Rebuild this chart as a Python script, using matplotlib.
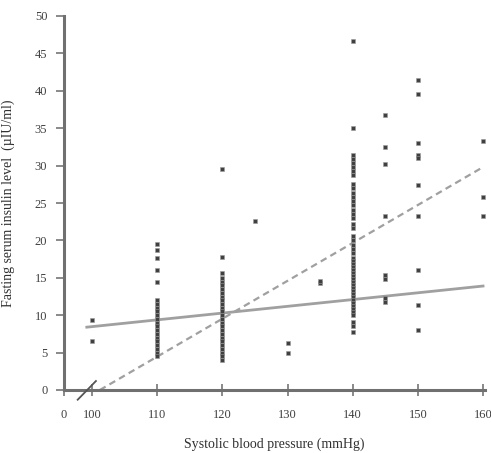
import numpy as np
import matplotlib
matplotlib.use("Agg")
import matplotlib.pyplot as plt

plt.rcParams['font.family'] = ['Liberation Serif', 'DejaVu Serif']

# systolic blood pressure groups and the insulin values read in each group
sbp_100 = [9.3, 6.6]
sbp_110 = [19.5, 18.7, 17.6, 16.0, 14.5, 12.0, 11.5, 11.0, 10.5, 10.0, 9.5, 9.0,
           8.5, 8.0, 7.5, 7.0, 6.5, 6.0, 5.5, 5.0, 4.5]
sbp_120 = [29.5, 17.8, 15.6, 15.0, 14.5, 14.0, 13.5, 13.0, 12.5, 12.0, 11.5, 11.0,
           10.5, 10.0, 9.5, 9.0, 8.5, 8.0, 7.5, 7.0, 6.5, 6.0, 5.5, 5.0, 4.5, 4.0]
sbp_125 = [22.6]
sbp_130 = [6.3, 4.9]
sbp_135 = [14.3, 14.6]
sbp_140 = [46.6, 35.0, 31.4, 30.9, 30.4, 29.8, 29.3, 28.7, 27.5, 27.0, 26.4, 25.8,
           25.3, 24.7, 24.0, 23.5, 23.0, 22.2, 21.6, 20.6, 20.0, 19.4, 18.8, 18.3,
           17.6, 17.2, 16.8, 16.4, 16.0, 15.6, 15.2, 14.8, 14.4, 14.0, 13.6, 13.2,
           12.8, 12.4, 12.0, 11.6, 11.2, 10.8, 10.4, 10.0, 9.1, 8.6, 7.7]
sbp_145 = [36.8, 32.5, 30.2, 23.2, 15.4, 14.8, 12.3, 11.8]
sbp_150 = [41.5, 39.6, 33.0, 31.4, 31.0, 27.4, 23.3, 16.0, 11.3, 8.0]
sbp_160 = [33.3, 25.8, 23.2]

groups = {100: sbp_100, 110: sbp_110, 120: sbp_120, 125: sbp_125, 130: sbp_130,
          135: sbp_135, 140: sbp_140, 145: sbp_145, 150: sbp_150, 160: sbp_160}

# two fitted lines (end points)
dash_x = [101.2, 160]
dash_y = [0, 29.8]
solid_x = [99.2, 160]
solid_y = [8.4, 13.9]

x_ticks = [95.7, 100, 110, 120, 130, 140, 150, 160]
x_labels = ['0', '100', '110', '120', '130', '140', '150', '160']
y_ticks = [0, 5, 10, 15, 20, 25, 30, 35, 40, 45, 50]

fig = plt.figure(figsize=(4.91, 4.53), dpi=100)
ax = fig.add_axes([64/491, 63/453, 421/491, 374/453])

xs, ys = [], []
for k, v in groups.items():
    xs += [k] * len(v)
    ys += v
ax.scatter(xs, ys, marker='s', s=7, color='#404040', edgecolors='#9a9a9a',
           linewidths=0.4, zorder=3)

ax.plot(solid_x, solid_y, color='#a0a0a0', lw=2.0, zorder=2)
ax.plot(dash_x, dash_y, color='#a0a0a0', lw=1.6, ls=(0, (3, 2)), zorder=2)

# axis break mark
ax.plot([97.8, 100.6], [-1.3, 1.2], color='#555555', lw=1.3, clip_on=False, zorder=4)

ax.set_xlim(95.7, 160.3)
ax.set_ylim(0, 50)
ax.set_xticks(x_ticks)
ax.set_xticklabels(x_labels)
ax.set_yticks(y_ticks)

for s in ['top', 'right']:
    ax.spines[s].set_visible(False)
for s in ['left', 'bottom']:
    ax.spines[s].set_color('#707070')
    ax.spines[s].set_linewidth(2.2)

ax.tick_params(axis='x', direction='inout', length=9, width=1.3, color='#808080',
               pad=9, labelsize=9, labelcolor='#404040')
ax.tick_params(axis='y', direction='out', length=6, width=1.3, color='#808080',
               pad=6, labelsize=9, labelcolor='#404040')

ax.set_xlabel('Systolic blood pressure (mmHg)', fontsize=10, color='#303030', labelpad=12)
ax.set_ylabel('Fasting serum insulin level  (µIU/ml)', fontsize=10, color='#303030', labelpad=14)

fig.savefig('out.png', dpi=100)
